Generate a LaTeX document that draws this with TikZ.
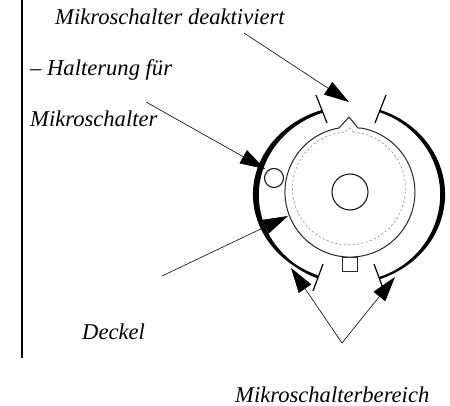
\documentclass[tikz,border=0pt]{standalone}
\usepackage{fontspec}
\setmainfont{Liberation Serif}
\usetikzlibrary{arrows.meta}
\tikzset{
  lbl/.style={anchor=base west,inner sep=0pt,font=\fontsize{22.6}{26}\selectfont\itshape},
  pointer/.style={draw=black,line width=0.6pt,-{Triangle[length=25pt,width=15pt,fill=black]},shorten >=0pt},
  tick/.style={draw=black,line width=1.2pt},
  outline/.style={draw=black!85,line width=1pt},
  crescent/.style={fill=black,draw=black,line width=2.2pt,line join=round},
}
\begin{document}
\begin{tikzpicture}[x=1pt,y=-1pt]
\useasboundingbox (0,0) rectangle (450,406);
% frame line
\coordinate (railT) at (22,0);
\coordinate (railB) at (22,358);
\draw[line width=1.4pt] (railT) -- (railB);
% lug and cam disc
\draw[outline,fill=white] (342.5,258) rectangle (357,272);
\draw[outline,fill=white,line join=round]
  (358,128) -- (349,117) -- (339,128)
  arc[start angle=-99.7,end angle=-440,radius=65] -- cycle;
% dashed disc
\draw[draw=black!45,line width=0.6pt,dash pattern=on 2.2pt off 2.2pt]
  (354,132) -- (349.5,128) -- (345,132)
  arc[start angle=-94,end angle=-446,radius=56.5];
% hub and switch
\node[draw=black!90,line width=1.1pt,circle,minimum size=36pt,inner sep=0pt] (hub) at (350,192) {};
\node[draw=black!90,line width=1.1pt,circle,fill=white,minimum size=19pt,inner sep=0pt] (switch) at (274,178) {};
% cover crescents
\path[crescent] (322,111) arc[start angle=-109.5,end angle=-247.5,x radius=102,y radius=88.5]
  -- (317,277) arc[start angle=-247.5,end angle=-109.5,x radius=96,y radius=88.5] -- cycle;
\path[crescent] (380,111) arc[start angle=-70.5,end angle=70.5,x radius=96,y radius=88.5]
  -- (380,278) arc[start angle=70.5,end angle=-70.5,x radius=92,y radius=88.5] -- cycle;
% ticks
\coordinate (t1a) at (316,95); \coordinate (t1b) at (327,123);
\coordinate (t2a) at (386,95); \coordinate (t2b) at (375,123);
\coordinate (t3a) at (323,264); \coordinate (t3b) at (313,291);
\coordinate (t4a) at (374,264); \coordinate (t4b) at (384,291);
\draw[tick] (t1a) -- (t1b);
\draw[tick] (t2a) -- (t2b);
\draw[tick] (t3a) -- (t3b);
\draw[tick] (t4a) -- (t4b);
% labels
\node[lbl] (deakt) at (55,25) {Mikroschalter deaktiviert};
\node[lbl] (halt) at (30,76) {– Halterung für};
\node[lbl] (mikro) at (30,127) {Mikroschalter};
\node[lbl] (deckel) at (82,339) {Deckel};
\node[lbl] (bereich) at (235,402) {Mikroschalterbereich};
% pointers
\coordinate (a1s) at (244,33); \coordinate (a1e) at (349,102);
\coordinate (a2s) at (146,102); \coordinate (a2e) at (265,169);
\coordinate (a3s) at (162,276); \coordinate (a3e) at (288,216);
\coordinate (a4s) at (342,343); \coordinate (a4e) at (291,268);
\coordinate (a5e) at (395,277);
\draw[pointer] (a1s) -- (a1e);
\draw[pointer] (a2s) -- (a2e);
\draw[pointer] (a3s) -- (a3e);
\draw[pointer] (a4s) -- (a4e);
\draw[pointer] (a4s) -- (a5e);
\end{tikzpicture}
\end{document}
